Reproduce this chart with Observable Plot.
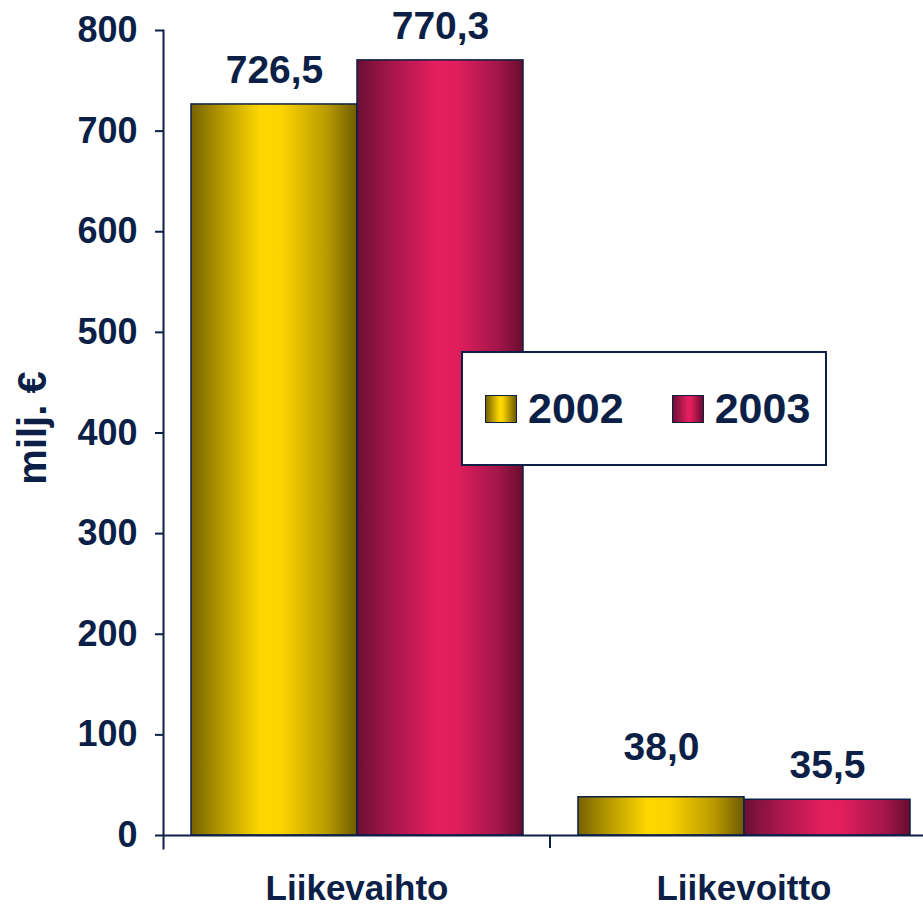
<!DOCTYPE html>
<html>
<head>
<meta charset="utf-8">
<script src="https://cdn.jsdelivr.net/npm/d3@7"></script>
<script src="https://cdn.jsdelivr.net/npm/@observablehq/plot@0.6"></script>
<style>
  html, body { margin: 0; padding: 0; background: #ffffff; }
  #wrap { position: relative; width: 923px; height: 907px; font-family: "Liberation Sans", Arial, sans-serif; font-weight: bold; color: #0c1f47; }
  #legend { position: absolute; left: 461px; top: 351px; width: 366px; height: 115px; box-sizing: border-box;
    border: 2px solid #0c1f47; background: #ffffff; display: flex; align-items: center; padding-left: 22px; }
  .sw { flex: 0 0 32px; width: 32px; height: 28px; box-sizing: border-box; border: 1.5px solid #0c1f47; }
  .lab { flex: 0 0 auto; font-size: 43px; line-height: 1; margin-left: 11px; margin-right: 48px; }
</style>
</head>
<body>
<svg width="0" height="0" style="position:absolute">
  <defs>
    <linearGradient id="g2002" x1="0" x2="1" y1="0" y2="0">
      <stop offset="0" stop-color="#766200"/>
      <stop offset="0.18" stop-color="#b49800"/>
      <stop offset="0.42" stop-color="#ffd800"/>
      <stop offset="0.55" stop-color="#fbd300"/>
      <stop offset="0.82" stop-color="#b89a00"/>
      <stop offset="1" stop-color="#6e5b00"/>
    </linearGradient>
    <linearGradient id="g2003" x1="0" x2="1" y1="0" y2="0">
      <stop offset="0" stop-color="#6c0f34"/>
      <stop offset="0.2" stop-color="#a5164a"/>
      <stop offset="0.48" stop-color="#e51f5f"/>
      <stop offset="0.6" stop-color="#e01e5d"/>
      <stop offset="0.85" stop-color="#a3164a"/>
      <stop offset="1" stop-color="#690c2e"/>
    </linearGradient>
  </defs>
</svg>
<div id="wrap">
  <div id="chart"></div>
  <div id="legend">
    <div class="sw" style="background: linear-gradient(to right, #766200, #ffd800 45%, #fbd300 55%, #6e5b00);"></div>
    <span class="lab">2002</span>
    <div class="sw" style="background: linear-gradient(to right, #6c0f34, #e51f5f 50%, #e01e5d 60%, #690c2e);"></div>
    <span class="lab">2003</span>
  </div>
</div>
<script>
const categories = ["Liikevaihto", "Liikevoitto"];
const years = ["2002", "2003"];
const values2002 = [726.5, 38.0];
const values2003 = [770.3, 35.5];
const yTicks = [0, 100, 200, 300, 400, 500, 600, 700, 800];
const yLabel = "milj. €";

const navy = "#0c1f47";
const fi = d3.formatLocale({decimal: ",", thousands: "\u00a0", grouping: [3], currency: ["", "\u00a0€"]});
const fmt = fi.format(".1f");

const rows = categories.flatMap((c, i) => [
  {category: c, year: years[0], value: values2002[i]},
  {category: c, year: years[1], value: values2003[i]}
]);
const isOdd = d => d.category === categories[1] && d.year === years[0];

const plot = Plot.plot({
  width: 923,
  height: 907,
  marginLeft: 163,
  marginRight: -14,
  marginTop: 30,
  marginBottom: 72,
  style: {fontFamily: "'Liberation Sans', Arial, sans-serif", fontWeight: "bold", color: navy, background: "transparent", overflow: "visible"},
  fx: {domain: categories, padding: 0, label: null},
  x: {domain: years, paddingInner: 0, paddingOuter: 0.16, axis: null},
  y: {domain: [0, 800], label: null},
  marks: [
    Plot.barY(rows.filter(d => d.year === years[0]), {fx: "category", x: "year", y: "value", fill: "url(#g2002)", stroke: navy, strokeWidth: 1.5}),
    Plot.barY(rows.filter(d => d.year === years[1]), {fx: "category", x: "year", y: "value", fill: "url(#g2003)", stroke: navy, strokeWidth: 1.5}),
    Plot.ruleY([0], {stroke: navy, strokeWidth: 2}),
    Plot.frame({anchor: "left", facetAnchor: "left", insetBottom: -13, stroke: navy, strokeWidth: 2}),
    Plot.axisY({ticks: yTicks, tickSize: 8, tickPadding: 18, fontSize: 36, tickFormat: d => String(d), label: null, stroke: navy, strokeWidth: 2, facetAnchor: "left"}),
    Plot.axisFx({anchor: "bottom", tickSize: 0, tickPadding: 40, fontSize: 35, label: null}),
    Plot.text(rows.filter(d => !isOdd(d)), {fx: "category", x: "year", y: "value", text: d => fmt(d.value), dy: -34, fontSize: 39, fill: navy}),
    Plot.text(rows.filter(isOdd), {fx: "category", x: "year", y: "value", text: d => fmt(d.value), dy: -50, fontSize: 39, fill: navy}),
    Plot.text([yLabel], {frameAnchor: "left", facetAnchor: "left", textAnchor: "middle", rotate: -90, dx: -130, dy: -5, fontSize: 40, fill: navy})
  ]
});

document.getElementById("chart").appendChild(plot);

// category boundary tick between the two groups (from the library's own scales)
const fxs = plot.scale("fx");
const ys = plot.scale("y");
const svg = d3.select(plot);
const bx = fxs.apply(categories[1]);
const by = ys.apply(0);
svg.append("line")
  .attr("x1", bx).attr("x2", bx)
  .attr("y1", by).attr("y2", by + 13)
  .attr("stroke", navy).attr("stroke-width", 2);
</script>
</body>
</html>
